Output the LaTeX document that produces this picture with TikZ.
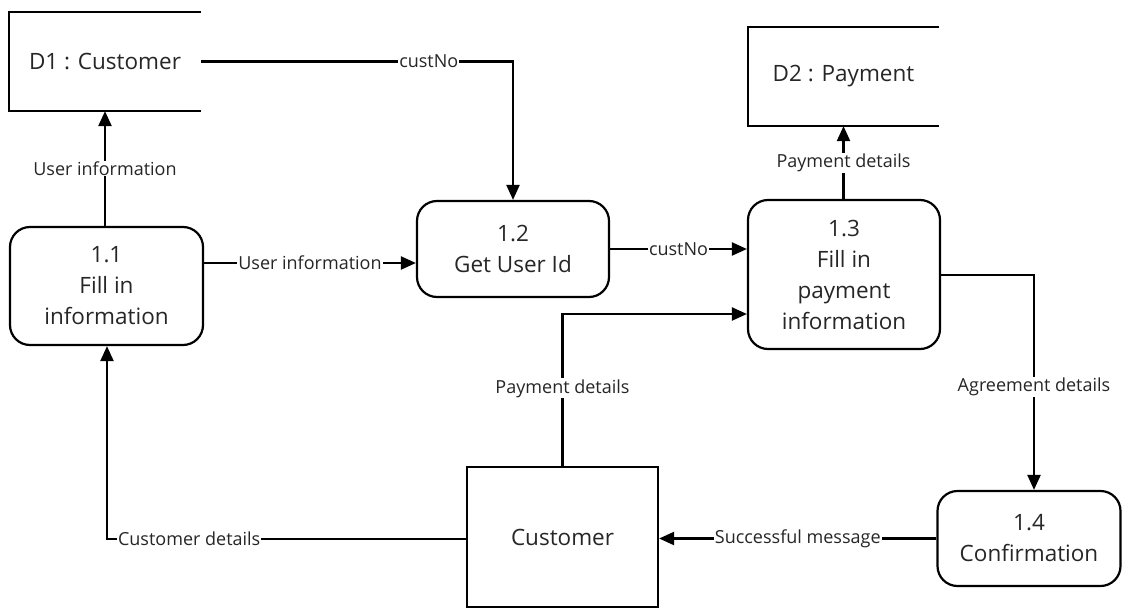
\documentclass[tikz,border=0pt]{standalone}
\usepackage{fontspec}
\setmainfont{Open Sans}
\usetikzlibrary{arrows.meta}
\begin{document}
\begin{tikzpicture}[x=1pt,y=-1pt,
  line width=2.2pt,
  boxfont/.style={font=\fontsize{22.5}{31}\selectfont, text=black!85},
  proc/.style={draw, rounded corners=20pt, align=center, boxfont, inner sep=0pt},
  ent/.style={draw, align=center, boxfont, inner sep=0pt},
  store/.style={align=center, boxfont, inner sep=0pt},
  lbl/.style={fill=white, font=\fontsize{18}{20}\selectfont, text=black!85, inner sep=1pt},
  flow/.style={-{Triangle[length=15pt,width=13pt]}}
]
\useasboundingbox (0,0) rectangle (1123,610);

% data stores
\node[store, minimum width=190pt, minimum height=97pt] (d1) at (105,61.5) {D1 : Customer};
\draw (d1.north east) -- (d1.north west) -- (d1.south west) -- (d1.south east);
\node[store, minimum width=189pt, minimum height=97pt] (d2) at (843.5,76.5) {D2 : Payment};
\draw (d2.north east) -- (d2.north west) -- (d2.south west) -- (d2.south east);

% processes
\node[proc, minimum width=193pt, minimum height=118pt] (p11) at (106.5,286) {1.1\\Fill in\\information};
\node[proc, minimum width=192pt, minimum height=96pt] (p12) at (513,249) {1.2\\Get User Id};
\node[proc, minimum width=192pt, minimum height=149pt] (p13) at (844,274.5) {1.3\\Fill in\\payment\\information};
\node[proc, minimum width=183pt, minimum height=95pt] (p14) at (1029,538.5) {1.4\\Confirmation};

% external entity
\node[ent, minimum width=191pt, minimum height=140pt] (cust) at (562.5,537) {Customer};

% helper coordinates
\coordinate (y263) at (0,263);
\coordinate (y314) at (0,314);
\coordinate (a34) at (1034,275);
\coordinate (c1) at (107,539);

% flows
\draw[flow] (d1.east) -- node[lbl, pos=0.73] {custNo} (p12.north |- d1.east) -- (p12.north);
\draw[flow] (p11.north -| d1.south) -- node[lbl] {User information} (d1.south);
\draw[flow] (p11.east |- y263) -- node[lbl] {User information} (p12.west |- y263);
\draw[flow] (p12.east) -- node[lbl] {custNo} (p12.east -| p13.west);
\draw[flow] (p13.north -| d2.south) -- node[lbl] {Payment details} (d2.south);
\draw[flow] (p13.east |- a34) -- (a34) -- node[lbl, pos=0.52] {Agreement details} (a34 |- p14.north);
\draw[flow] (p14.west) -- node[lbl] {Successful message} (p14.west -| cust.east);
\draw[flow] (cust.north) -- node[lbl, pos=0.51] {Payment details} (cust.north |- y314) -- (p13.west |- y314);
\draw[flow] (cust.west |- c1) -- node[lbl, pos=0.771] {Customer details} (c1) -- (c1 |- p11.south);
\end{tikzpicture}
\end{document}
